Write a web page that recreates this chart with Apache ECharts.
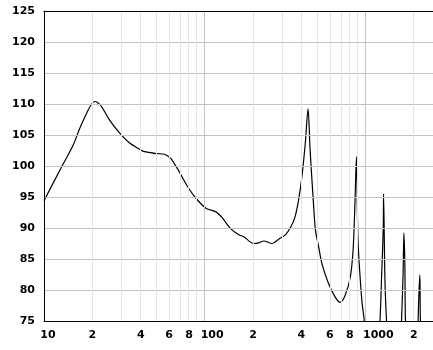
<!DOCTYPE html>
<html>
<head>
<meta charset="utf-8">
<script src="https://cdn.jsdelivr.net/npm/echarts@6/dist/echarts.min.js"></script>
<style>
  html, body { margin: 0; padding: 0; background: #fff; }
  #chart { width: 433px; height: 350px; }
</style>
</head>
<body>
<div id="chart"></div>
<script>
// response curve (Hz / dB)
var freqHz = [10, 12.6, 15.2, 16.7, 18.8, 19.8, 20.7, 21.6, 22.8, 25.6, 29.6, 34.1, 38.9, 41.2, 45, 49.8,
  56.2, 61.7, 65, 69.4, 78.2, 88.2, 101.9, 117.6, 129, 145, 163, 175, 202, 217, 233, 263, 289, 318,
  344, 365, 384, 403, 423, 440, 453, 474, 489, 512, 536, 589, 648, 697, 750, 806, 839, 860, 880,
  900, 950, 985, 1050, 1150, 1233, 1262, 1293, 1298, 1324, 1355, 1450, 1600, 1679, 1719, 1737,
  1762, 1777, 1900, 2050, 2129, 2150, 2182, 2191, 2200, 2350, 2600];
var levelDb = [94.4, 99.4, 103.4, 106.1, 109.0, 110.0, 110.4, 110.2, 109.6, 107.4, 105.3, 103.7, 102.8, 102.4, 102.2, 102.0,
  101.9, 101.2, 100.3, 99.1, 96.7, 94.8, 93.2, 92.6, 91.6, 89.9, 88.9, 88.6, 87.5, 87.6, 87.9, 87.5, 88.2, 88.9,
  90.2, 91.8, 94.5, 98.3, 103.7, 109.2, 102.6, 94.5, 89.7, 87.0, 84.3, 81.1, 78.9, 78.0, 79.2, 82.1, 86.5, 93.4, 101.5,
  88.1, 78.4, 75, 65, 62, 75, 82.1, 90.2, 95.5, 81.6, 75, 62, 62, 75, 83.0, 89.2,
  84.0, 75, 62, 62, 75, 78.7, 82.4, 80, 75, 62, 60];

var xTickHz = [10, 20, 40, 60, 80, 100, 200, 400, 600, 800, 1000, 2000];
var decadeHz = [10, 100, 1000];
var minorHz = [20, 30, 40, 50, 60, 70, 80, 90, 200, 300, 400, 500, 600, 700, 800, 900, 2000];
var yMin = 75, yMax = 125, yStep = 5;

var lg = function(v){ return Math.log10(v); };
var xMin = 1, xMax = 3.421;

function vLines(list){
  return list.map(function(f){ return { xAxis: lg(f) }; });
}

var chart = echarts.init(document.getElementById('chart'), null, { renderer: 'canvas' });
var labelFont = { fontFamily: 'DejaVu Sans', fontWeight: 'bold', fontSize: 11, color: '#000' };

var option = {
  animation: false,
  backgroundColor: '#fff',
  grid: { left: 44, top: 11, right: -2, bottom: 29 },
  xAxis: [{
    type: 'value', min: xMin, max: xMax, position: 'bottom', z: 5,
    axisLine: { show: true, lineStyle: { color: '#000', width: 1 } },
    axisTick: { show: false },
    splitLine: { show: false },
    axisLabel: Object.assign({
      margin: 9,
      customValues: xTickHz.map(lg),
      formatter: function(v){
        var f = Math.round(Math.pow(10, v));
        if (f === 10) return '{d1|10}';
        if (f === 100) return '{d2|100}';
        if (f === 1000) return '{d3|1000}';
        return String(f).charAt(0);
      },
      rich: {
        d1: { padding: [0, 0, 0, 8], fontFamily: 'DejaVu Sans', fontWeight: 'bold', fontSize: 11 },
        d2: { padding: [0, 0, 0, 15], fontFamily: 'DejaVu Sans', fontWeight: 'bold', fontSize: 11 },
        d3: { padding: [0, 0, 0, 26], fontFamily: 'DejaVu Sans', fontWeight: 'bold', fontSize: 11 }
      }
    }, labelFont)
  }, {
    type: 'value', min: xMin, max: xMax, position: 'top', z: 5,
    axisLine: { show: true, lineStyle: { color: '#000', width: 1 } },
    axisTick: { show: false }, axisLabel: { show: false }, splitLine: { show: false }
  }],
  yAxis: {
    type: 'value', min: yMin, max: yMax, interval: yStep, z: 5,
    axisLine: { show: true, lineStyle: { color: '#000', width: 1 } },
    axisTick: { show: false },
    axisLabel: Object.assign({ margin: 9 }, labelFont),
    splitLine: { show: true, lineStyle: { color: '#c4c4c4', width: 1 } }
  },
  series: [{
    // vertical grid, minor
    type: 'line', data: [], z: 1, silent: true,
    markLine: {
      silent: true, symbol: 'none', label: { show: false },
      lineStyle: { color: '#e4e4e4', width: 1, type: 'solid' },
      emphasis: { disabled: true },
      data: vLines(minorHz)
    }
  }, {
    // vertical grid, decades
    type: 'line', data: [], z: 1, silent: true,
    markLine: {
      silent: true, symbol: 'none', label: { show: false },
      lineStyle: { color: '#c4c4c4', width: 1, type: 'solid' },
      emphasis: { disabled: true },
      data: vLines(decadeHz)
    }
  }, {
    type: 'line', z: 3,
    data: freqHz.map(function(f, i){ return [lg(f), levelDb[i]]; }),
    showSymbol: false, smooth: 0.3, clip: true,
    lineStyle: { color: '#000', width: 1.2 }
  }]
};
chart.setOption(option);
</script>
</body>
</html>
